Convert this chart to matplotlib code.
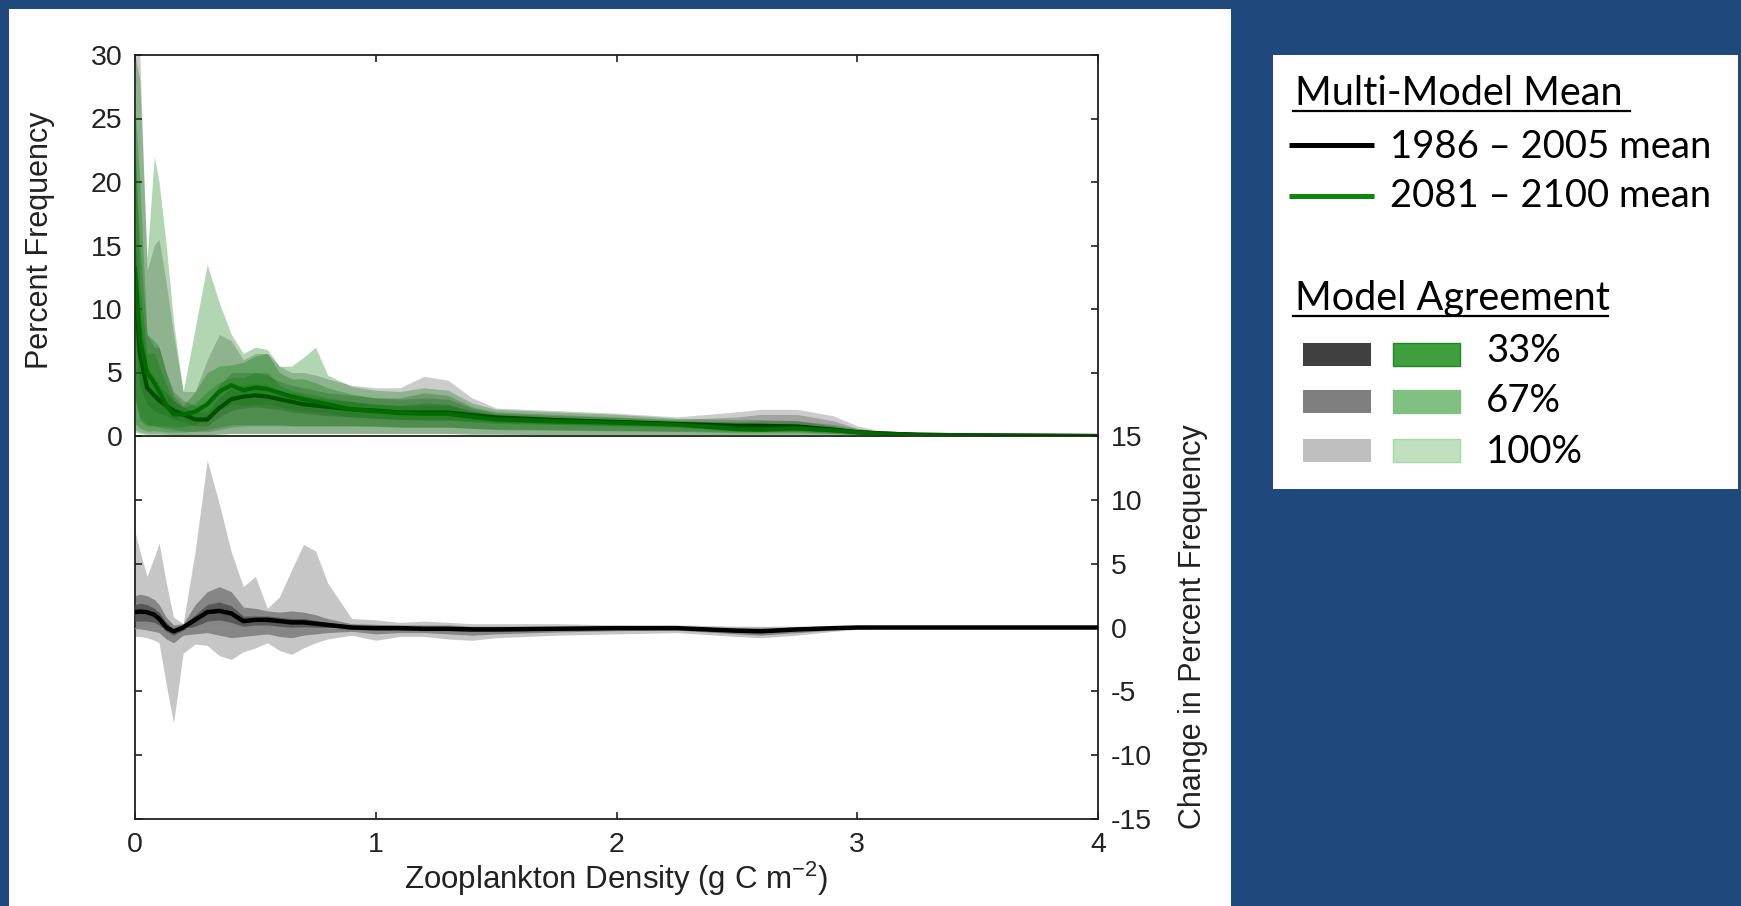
import matplotlib.pyplot as plt
from matplotlib.patches import Rectangle

plt.rcParams['font.family'] = ['Liberation Sans', 'DejaVu Sans']
plt.rcParams['mathtext.fontset'] = 'custom'
plt.rcParams['mathtext.rm'] = 'Liberation Sans'
plt.rcParams['axes.unicode_minus'] = False

# zooplankton density grid (g C m-2)
density = [0, 0.02, 0.05, 0.08, 0.1, 0.13, 0.16, 0.2, 0.25, 0.3, 0.35, 0.4, 0.45, 0.5, 0.55,
           0.6, 0.65, 0.7, 0.75, 0.8, 0.9, 1.0, 1.1, 1.2, 1.3, 1.4, 1.5, 1.75, 2.0, 2.25,
           2.5, 2.6, 2.75, 2.9, 3.0, 3.1, 3.25, 3.5, 4.0]

# percent frequency, multi-model means
hist_mean = [12.0, 6.5, 3.8, 3.2, 2.8, 2.4, 2.0, 1.7, 1.3, 1.3, 2.2, 2.9, 3.1, 3.2, 3.1,
             2.9, 2.7, 2.5, 2.4, 2.3, 2.1, 2.0, 1.85, 1.85, 1.85, 1.65, 1.45, 1.25, 1.1, 0.95,
             0.8, 0.8, 0.75, 0.5, 0.3, 0.2, 0.1, 0.05, 0.0]
fut_mean = [13.2, 7.75, 5.0, 4.2, 3.5, 2.4, 1.7, 1.7, 1.9, 2.5, 3.5, 4.0, 3.6, 3.8, 3.7,
            3.4, 3.1, 2.9, 2.7, 2.5, 2.1, 1.95, 1.8, 1.75, 1.75, 1.5, 1.3, 1.15, 1.05, 0.9,
            0.55, 0.5, 0.6, 0.45, 0.3, 0.2, 0.1, 0.05, 0.0]

# model agreement envelopes, 1986-2005 (gray)
hist_100_hi = [30, 30, 13, 15, 15.5, 12, 8, 3.5, 3.5, 6, 8, 7.5, 6, 6.5, 6.5,
               5.5, 5, 5, 4.8, 4.5, 4.0, 3.8, 3.8, 4.7, 4.4, 3.0, 2.2, 2.0, 1.8, 1.5,
               1.9, 2.1, 2.1, 1.6, 0.8, 0.4, 0.2, 0.1, 0.05]
hist_100_lo = [0.5, 0.3, 0.2, 0.2, 0.2, 0.15, 0.1, 0.1, 0.1, 0.1, 0.15, 0.2, 0.2, 0.2, 0.2,
               0.2, 0.2, 0.2, 0.2, 0.2, 0.2, 0.2, 0.2, 0.2, 0.2, 0.15, 0.15, 0.1, 0.1, 0.1,
               0.1, 0.1, 0.1, 0.05, 0.05, 0.02, 0.01, 0.0, 0.0]
hist_67_hi = [22, 15, 8, 7, 7, 5, 3.5, 2.8, 2.4, 2.6, 4.0, 5.0, 5.0, 5.0, 4.8,
              4.3, 4.0, 3.8, 3.6, 3.4, 3.2, 3.0, 3.0, 3.4, 3.2, 2.3, 1.9, 1.7, 1.5, 1.3,
              1.5, 1.7, 1.7, 1.2, 0.6, 0.3, 0.15, 0.08, 0.03]
hist_67_lo = [3.0, 1.5, 0.9, 0.8, 0.7, 0.6, 0.5, 0.4, 0.35, 0.35, 0.5, 0.7, 0.8, 0.8, 0.8,
              0.8, 0.8, 0.8, 0.8, 0.8, 0.8, 0.8, 0.7, 0.7, 0.7, 0.6, 0.55, 0.5, 0.45, 0.4,
              0.35, 0.35, 0.35, 0.2, 0.12, 0.08, 0.04, 0.02, 0.0]
hist_33_hi = [16, 10, 5.5, 4.6, 4.0, 3.4, 2.8, 2.3, 1.9, 1.9, 3.0, 3.8, 4.0, 4.1, 4.0,
              3.6, 3.4, 3.2, 3.0, 2.9, 2.7, 2.5, 2.4, 2.6, 2.5, 2.0, 1.7, 1.5, 1.3, 1.15,
              1.1, 1.2, 1.2, 0.8, 0.45, 0.25, 0.12, 0.06, 0.01]
hist_33_lo = [8, 4, 2.5, 2.0, 1.8, 1.6, 1.3, 1.1, 0.8, 0.8, 1.5, 2.0, 2.2, 2.3, 2.2,
              2.1, 1.9, 1.8, 1.7, 1.6, 1.5, 1.4, 1.3, 1.3, 1.3, 1.2, 1.1, 0.95, 0.85, 0.75,
              0.6, 0.55, 0.5, 0.3, 0.18, 0.12, 0.06, 0.03, 0.0]

# model agreement envelopes, 2081-2100 (green)
fut_100_hi = [30, 28, 14, 22, 20, 15, 9, 3.5, 8.5, 13.5, 10.5, 8, 6.5, 7, 6.8,
              5.5, 5.5, 6.2, 7, 4.8, 3.9, 3.6, 3.5, 3.8, 3.6, 2.6, 2.1, 1.9, 1.7, 1.4,
              1.3, 1.3, 1.2, 0.9, 0.6, 0.35, 0.15, 0.08, 0.03]
fut_100_lo = [0.3, 0.2, 0.1, 0.1, 0.1, 0.1, 0.1, 0.1, 0.1, 0.1, 0.15, 0.2, 0.2, 0.2, 0.2,
              0.2, 0.2, 0.2, 0.2, 0.2, 0.2, 0.2, 0.2, 0.2, 0.2, 0.15, 0.15, 0.1, 0.1, 0.1,
              0.05, 0.05, 0.05, 0.05, 0.03, 0.02, 0.01, 0.0, 0.0]
fut_67_hi = [26, 20, 8, 7.5, 7, 5, 3.2, 2.4, 3.5, 5, 5.5, 5.6, 5.8, 6.3, 6.5,
             5, 4.5, 4.5, 4.2, 3.8, 3.3, 3.0, 2.9, 3.0, 2.9, 2.2, 1.8, 1.6, 1.45, 1.2,
             1.1, 1.0, 0.95, 0.7, 0.45, 0.3, 0.12, 0.06, 0.02]
fut_67_lo = [1.0, 0.6, 0.4, 0.4, 0.4, 0.3, 0.3, 0.3, 0.4, 0.5, 0.7, 0.9, 0.9, 0.9, 0.9,
             0.9, 0.8, 0.8, 0.8, 0.8, 0.8, 0.75, 0.7, 0.7, 0.7, 0.6, 0.5, 0.45, 0.4, 0.35,
             0.25, 0.25, 0.25, 0.2, 0.12, 0.08, 0.04, 0.02, 0.0]
fut_33_hi = [24, 12, 6.5, 6.5, 5.5, 4.0, 2.8, 2.2, 2.6, 3.5, 4.2, 4.6, 4.6, 5.0, 5.0,
             4.0, 3.6, 3.4, 3.2, 3.0, 2.7, 2.5, 2.4, 2.4, 2.4, 1.9, 1.6, 1.4, 1.25, 1.05,
             0.85, 0.8, 0.8, 0.55, 0.35, 0.22, 0.1, 0.05, 0.01]
fut_33_lo = [3.0, 1.2, 0.8, 0.8, 0.8, 0.8, 0.7, 0.7, 0.9, 1.3, 2.0, 2.5, 2.4, 2.5, 2.5,
             2.3, 2.1, 2.0, 1.9, 1.8, 1.5, 1.4, 1.3, 1.25, 1.25, 1.1, 1.0, 0.9, 0.8, 0.7,
             0.4, 0.35, 0.4, 0.3, 0.2, 0.12, 0.06, 0.03, 0.0]

# change in percent frequency (future - historical)
diff_mean = [1.2, 1.25, 1.2, 1.0, 0.7, 0.0, -0.3, 0.0, 0.6, 1.2, 1.3, 1.1, 0.5, 0.6, 0.6,
             0.5, 0.4, 0.4, 0.3, 0.2, 0.0, -0.05, -0.05, -0.1, -0.1, -0.15, -0.15, -0.1, -0.05, -0.05,
             -0.25, -0.3, -0.15, -0.05, 0.0, 0.0, 0.0, 0.0, 0.0]
diff_100_hi = [7.5, 6.0, 4.0, 5.5, 6.6, 3.5, 0.8, 0.3, 6.0, 13.1, 9.7, 5.9, 3.2, 4.0, 1.5,
               2.4, 4.5, 6.5, 6.0, 3.5, 0.7, 0.6, 0.4, 0.5, 0.4, 0.3, 0.3, 0.3, 0.2, 0.2,
               0.1, 0.1, 0.1, 0.1, 0.1, 0.05, 0.05, 0.02, 0.01]
diff_100_lo = [-0.7, -0.7, -0.8, -1.0, -1.2, -4.5, -7.5, -2.0, -1.3, -1.4, -2.2, -2.5, -1.9, -1.6, -1.2,
               -1.8, -2.1, -1.6, -1.2, -0.9, -0.6, -1.0, -0.7, -0.7, -0.9, -1.0, -0.8, -0.6, -0.5, -0.4,
               -0.7, -0.8, -0.6, -0.3, -0.15, -0.1, -0.05, -0.02, -0.01]
diff_67_hi = [2.5, 2.6, 2.5, 2.2, 1.8, 0.8, 0.2, 0.3, 1.8, 2.8, 3.2, 2.8, 1.6, 1.5, 1.3,
              1.2, 1.3, 1.2, 1.0, 0.7, 0.3, 0.25, 0.2, 0.2, 0.2, 0.1, 0.1, 0.1, 0.1, 0.05,
              0.0, -0.05, 0.05, 0.05, 0.05, 0.03, 0.02, 0.01, 0.0]
diff_67_lo = [0.0, -0.1, -0.2, -0.3, -0.4, -0.9, -1.2, -0.6, -0.5, -0.4, -0.6, -0.8, -0.7, -0.6, -0.5,
              -0.7, -0.8, -0.6, -0.5, -0.4, -0.3, -0.5, -0.4, -0.4, -0.5, -0.6, -0.5, -0.35, -0.25, -0.2,
              -0.5, -0.6, -0.4, -0.2, -0.1, -0.05, -0.03, -0.01, 0.0]
diff_33_hi = [1.8, 1.9, 1.8, 1.5, 1.2, 0.4, -0.1, 0.2, 1.0, 1.8, 2.0, 1.7, 0.9, 0.9, 0.9,
              0.8, 0.7, 0.7, 0.55, 0.4, 0.15, 0.1, 0.08, 0.05, 0.05, 0.0, 0.0, 0.0, 0.03, 0.0,
              -0.15, -0.2, -0.05, 0.0, 0.02, 0.01, 0.01, 0.0, 0.0]
diff_33_lo = [0.5, 0.5, 0.5, 0.4, 0.2, -0.3, -0.6, -0.2, 0.1, 0.5, 0.6, 0.4, 0.1, 0.2, 0.2,
              0.1, 0.0, 0.05, 0.0, -0.05, -0.15, -0.2, -0.2, -0.25, -0.25, -0.3, -0.3, -0.2, -0.15, -0.1,
              -0.35, -0.4, -0.25, -0.1, -0.05, -0.03, -0.02, -0.01, 0.0]

W, H = 1741, 906
fig = plt.figure(figsize=(W / 100, H / 100), dpi=100)
fig.patch.set_facecolor('#1f497d')
fig.add_artist(Rectangle((9 / W, 0), 1222 / W, 897 / H, transform=fig.transFigure,
                         facecolor='white', edgecolor='none', zorder=0))

ax1 = fig.add_axes([135 / W, (H - 436) / H, 963 / W, 381 / H])
ax2 = fig.add_axes([135 / W, (H - 819) / H, 963 / W, 383 / H])

# top panel: distributions
for lo, hi in [(hist_100_lo, hist_100_hi), (hist_67_lo, hist_67_hi), (hist_33_lo, hist_33_hi)]:
    ax1.fill_between(density, lo, hi, color='black', alpha=0.2, lw=0, zorder=1)
ax1.plot(density, hist_mean, color='black', lw=3, zorder=2)
ax1.plot(density, fut_mean, color='#005500', lw=3, zorder=2)
for lo, hi in [(fut_100_lo, fut_100_hi), (fut_67_lo, fut_67_hi), (fut_33_lo, fut_33_hi)]:
    ax1.fill_between(density, lo, hi, color='#007a00', alpha=0.3, lw=0, zorder=3)

# bottom panel: change
ax2.fill_between(density, diff_100_lo, diff_100_hi, color='#c6c6c6', lw=0, zorder=1)
ax2.fill_between(density, diff_67_lo, diff_67_hi, color='#868686', lw=0, zorder=2)
ax2.fill_between(density, diff_33_lo, diff_33_hi, color='#585858', lw=0, zorder=3)
ax2.axhline(0, color='#8a8a8a', lw=1, zorder=4)
ax2.plot(density, diff_mean, color='black', lw=3.2, zorder=5)

for ax in (ax1, ax2):
    ax.set_xlim(0, 4)
    ax.set_xticks([0, 1, 2, 3, 4])
    ax.set_facecolor('none')
    for s in ax.spines.values():
        s.set_linewidth(1.3)
        s.set_color('#202020')
    ax.tick_params(direction='in', length=5, width=1.2, color='#202020',
                   labelsize=20.5, pad=9, labelcolor='#222222')

ax1.set_ylim(0, 30)
ax1.set_yticks(range(0, 31, 5))
ax1.tick_params(axis='y', left=True, right=True, labelleft=True, labelright=False)
ax1.tick_params(axis='x', top=True, bottom=False, labelbottom=False, labeltop=False)

ax2.set_ylim(-15, 15)
ax2.set_yticks(range(-15, 16, 5))
ax2.tick_params(axis='y', left=True, right=True, labelleft=False, labelright=True)
ax2.tick_params(axis='x', top=False, bottom=True, labelbottom=True)
ax2.spines['top'].set_visible(False)

fig.text(40 / W, 1 - 240 / H, 'Percent Frequency', rotation=90, ha='center', va='center',
         fontsize=22, color='#222222')
fig.text(1193 / W, 1 - 627 / H, 'Change in Percent Frequency', rotation=90, ha='center',
         va='center', fontsize=22, color='#222222')
fig.text(616 / W, 1 - 889 / H, r'Zooplankton Density (g C m$^{-2}$)', ha='center',
         va='baseline', fontsize=22.5, color='#222222')

# legend box
lg = fig.add_axes([1273 / W, (H - 489) / H, 465 / W, 434 / H])
lg.set_xlim(0, 465)
lg.set_ylim(434, 0)
lg.set_facecolor('white')
lg.set_xticks([])
lg.set_yticks([])
for s in lg.spines.values():
    s.set_visible(False)

lfont = dict(family=['Lato', 'DejaVu Sans'], fontsize=28.5, color='black', va='baseline')
ifont = dict(lfont, fontsize=27.5)
lg.text(22, 50, 'Multi-Model Mean', **lfont)
lg.plot([20, 357], [56, 56], color='black', lw=1.6)
lg.plot([16, 101], [90, 90], color='black', lw=3.6, solid_capstyle='butt')
lg.text(117, 102.5, '1986 \u2013 2005 mean', **ifont)
lg.plot([16, 101], [141, 141], color='#0a870a', lw=3.6, solid_capstyle='butt')
lg.text(117, 152, '2081 \u2013 2100 mean', **ifont)
lg.text(22, 255, 'Model Agreement', **lfont)
lg.plot([20, 335], [261, 261], color='black', lw=1.6)

swatches = [('33%', '#404040', '#3f9f3f', '#1c8a1c', 288, 307),
            ('67%', '#7f7f7f', '#80c080', '#80c080', 335, 357),
            ('100%', '#bfbfbf', '#c0e0c0', '#a8d6a8', 384, 408)]
for label, gcol, fcol, ecol, top, base in swatches:
    lg.add_patch(Rectangle((30, top), 68, 23, facecolor=gcol, edgecolor='none'))
    lg.add_patch(Rectangle((120, top), 67, 23, facecolor=fcol, edgecolor=ecol, lw=1))
    lg.text(213, base, label, **ifont)

fig.savefig('out.png', dpi=100, facecolor=fig.get_facecolor())
